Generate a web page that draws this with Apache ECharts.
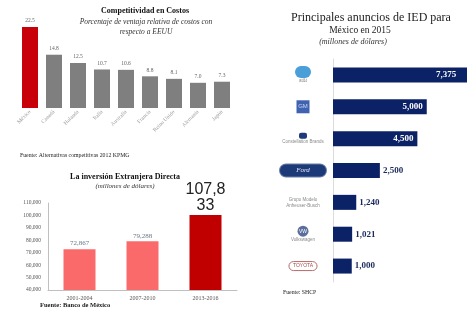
<!DOCTYPE html>
<html>
<head>
<meta charset="utf-8">
<script src="https://cdn.jsdelivr.net/npm/echarts@6/dist/echarts.min.js"></script>
<style>
  html, body { margin: 0; padding: 0; background: #fff; }
  #chart { width: 467px; height: 311px; }
</style>
</head>
<body>
<div id="chart"></div>
<script>
// competitividad en costos (% ventaja vs EEUU)
var paises = ['México', 'Canadá', 'Holanda', 'Italia', 'Australia', 'Francia', 'Reino Unido', 'Alemania', 'Japón'];
var ventaja = [22.5, 14.8, 12.5, 10.7, 10.6, 8.8, 8.1, 7.0, 7.3];

// inversion extranjera directa (millones de dolares)
var periodos = ['2001-2004', '2007-2010', '2013-2016'];
var ied = [72867, 79288, 100300];
var iedTexto = ['72,867', '79,288', '107,8\n33'];
var iedTicks = [40000, 110000, 10000]; // min, max, interval

// principales anuncios de IED 2015
var empresas = ['AT&T', 'General Motors', 'Constellation Brands', 'Ford', 'Grupo Modelo', 'Volkswagen', 'Toyota'];
var anuncios = [7375, 5000, 4500, 2500, 1240, 1021, 1000];

var serif = 'Liberation Serif';
var rojo = '#c8000a';
var navy = '#0c2266';

function miles(v) {
    return String(v).replace(/\B(?=(\d{3})+(?!\d))/g, ',');
}

var logos = {
    'AT&T': '{globe|}\n{sm|at&t}',
    'General Motors': '{gm|GM}',
    'Constellation Brands': '{cb|}\n{sm|Constellation Brands}',
    'Ford': '{ford|Ford}',
    'Grupo Modelo': '{sm|Grupo Modelo}\n{sm|Anheuser-Busch}',
    'Volkswagen': '{vw|VW}\n{sm|Volkswagen}',
    'Toyota': '{toy|TOYOTA}'
};

var chart = echarts.init(document.getElementById('chart'));

var option = {
    animation: false,
    textStyle: {fontFamily: serif},
    grid: [
        {left: 18, width: 216, top: 27, height: 81, outerBoundsMode: 'none'},
        {left: 48, width: 189, top: 203, height: 87, outerBoundsMode: 'none'},
        {left: 333, width: 150, top: 59, height: 223, outerBoundsMode: 'none'}
    ],
    xAxis: [
        {
            gridIndex: 0,
            type: 'category',
            data: paises,
            axisLine: {show: false},
            axisTick: {show: false},
            axisLabel: {rotate: 45, fontSize: 5.5, color: '#9a9a9a', margin: 3, interval: 0}
        },
        {
            gridIndex: 1,
            type: 'category',
            data: periodos,
            axisLine: {lineStyle: {color: '#bfbfbf'}},
            axisTick: {show: false},
            axisLabel: {fontSize: 6, color: '#555', margin: 5}
        },
        {
            gridIndex: 2,
            type: 'value',
            min: 0,
            max: 8000,
            show: false
        }
    ],
    yAxis: [
        {gridIndex: 0, type: 'value', min: 0, max: 22.5, show: false},
        {
            gridIndex: 1,
            type: 'value',
            min: iedTicks[0],
            max: iedTicks[1],
            interval: iedTicks[2],
            axisLine: {show: true, lineStyle: {color: '#bfbfbf'}},
            axisTick: {show: false},
            splitLine: {show: false},
            axisLabel: {fontSize: 5.5, color: '#555', margin: 7, formatter: miles}
        },
        {
            gridIndex: 2,
            type: 'category',
            data: empresas,
            inverse: true,
            axisLine: {lineStyle: {color: '#dcdcdc'}},
            axisTick: {show: false},
            axisLabel: {
                align: 'center',
                margin: 30,
                formatter: function (v) { return logos[v]; },
                rich: {
                    sm: {fontSize: 4.5, color: '#8a8a8a', lineHeight: 6, fontFamily: 'Liberation Sans'},
                    globe: {backgroundColor: '#4a9fd8', width: 16, height: 12, borderRadius: 7},
                    gm: {backgroundColor: '#3f63b0', color: '#cfd8f0', fontSize: 6, width: 13, height: 13, align: 'center', fontFamily: 'Liberation Sans'},
                    cb: {backgroundColor: '#1f3a7a', width: 8, height: 6, borderRadius: 2},
                    ford: {backgroundColor: '#1d3a78', color: '#dfe6f5', fontSize: 7, fontStyle: 'italic', width: 46, height: 12, borderRadius: 7, align: 'center', borderColor: '#6b7fa8', borderWidth: 1},
                    vw: {backgroundColor: '#5a6f9c', color: '#fff', fontSize: 5, width: 11, height: 11, borderRadius: 6, align: 'center', fontFamily: 'Liberation Sans'},
                    toy: {color: '#a84a4a', fontSize: 5, borderColor: '#b86a6a', borderWidth: 1, borderRadius: 5, padding: [2, 4], fontFamily: 'Liberation Sans'}
                }
            }
        }
    ],
    series: [
        {
            type: 'bar',
            xAxisIndex: 0,
            yAxisIndex: 0,
            barWidth: 16,
            data: ventaja.map(function (v, i) {
                return {value: v, itemStyle: {color: i === 0 ? rojo : '#7f7f7f'}};
            }),
            label: {show: true, position: 'top', distance: 3, fontSize: 5.5, color: '#666',
                formatter: function (p) { return p.value.toFixed(1); }}
        },
        {
            type: 'bar',
            xAxisIndex: 1,
            yAxisIndex: 1,
            barWidth: 32,
            data: ied.map(function (v, i) {
                var ultimo = i === ied.length - 1;
                return {
                    value: v,
                    itemStyle: {color: ultimo ? '#c00000' : '#fb6a6a'},
                    label: ultimo
                        ? {fontSize: 16, color: '#222', lineHeight: 16, fontFamily: 'Liberation Sans', distance: 1}
                        : {fontSize: 7, color: '#6a7789', distance: 2}
                };
            }),
            label: {show: true, position: 'top',
                formatter: function (p) { return iedTexto[p.dataIndex]; }}
        },
        {
            type: 'bar',
            xAxisIndex: 2,
            yAxisIndex: 2,
            barWidth: 15,
            data: anuncios.map(function (v, i) {
                var dentro = i < 3;
                return {
                    value: v,
                    label: dentro
                        ? {position: 'insideRight', color: '#fff', distance: i === 0 ? 15 : 4}
                        : {position: 'right', color: '#1a2a5a', distance: 3}
                };
            }),
            itemStyle: {color: navy},
            label: {show: true, fontSize: 9, fontWeight: 'bold', fontFamily: serif,
                formatter: function (p) { return miles(p.value); }}
        }
    ],
    graphic: [
        {type: 'text', x: 145, y: 11, style: {text: 'Competitividad en Costos', font: 'bold 8px "Liberation Serif"', fill: '#111', textAlign: 'center', textVerticalAlign: 'middle'}},
        {type: 'text', x: 146, y: 22, style: {text: 'Porcentaje de ventaja relativa de costos con', font: 'italic 7.5px "Liberation Serif"', fill: '#333', textAlign: 'center', textVerticalAlign: 'middle'}},
        {type: 'text', x: 146, y: 32, style: {text: 'respecto a EEUU', font: 'italic 7.5px "Liberation Serif"', fill: '#333', textAlign: 'center', textVerticalAlign: 'middle'}},
        {type: 'text', x: 20, y: 155, style: {text: 'Fuente: Alternativas competitivas 2012 KPMG', font: '5.8px "Liberation Serif"', fill: '#222', textVerticalAlign: 'middle'}},

        {type: 'text', x: 125, y: 177, style: {text: 'La inversión Extranjera Directa', font: 'bold 8px "Liberation Serif"', fill: '#111', textAlign: 'center', textVerticalAlign: 'middle'}},
        {type: 'text', x: 125, y: 186, style: {text: '(millones de dólares)', font: 'italic 7px "Liberation Serif"', fill: '#333', textAlign: 'center', textVerticalAlign: 'middle'}},
        {type: 'text', x: 40, y: 305, style: {text: 'Fuente: Banco de México', font: 'bold 6.5px "Liberation Serif"', fill: '#222', textVerticalAlign: 'middle'}},

        {type: 'text', x: 291, y: 18, style: {text: 'Principales anuncios de IED para', font: '12px "Liberation Serif"', fill: '#222', textVerticalAlign: 'middle'}},
        {type: 'text', x: 360, y: 30, style: {text: 'México en 2015', font: '9.5px "Liberation Serif"', fill: '#222', textAlign: 'center', textVerticalAlign: 'middle'}},
        {type: 'text', x: 353, y: 42, style: {text: '(millones de dólares)', font: 'italic 8px "Liberation Serif"', fill: '#333', textAlign: 'center', textVerticalAlign: 'middle'}},
        {type: 'text', x: 283, y: 292, style: {text: 'Fuente: SHCP', font: '5.8px "Liberation Serif"', fill: '#222', textVerticalAlign: 'middle'}}
    ]
};

chart.setOption(option);
</script>
</body>
</html>
